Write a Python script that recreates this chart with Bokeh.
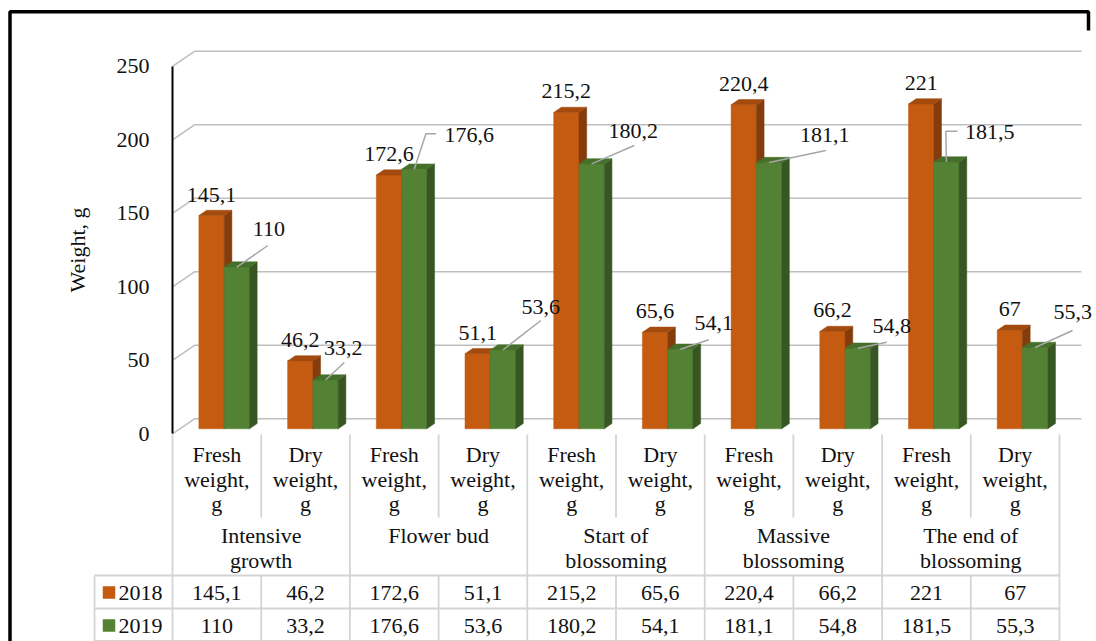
import numpy as np
from bokeh.plotting import figure
from bokeh.models import Range1d, LinearAxis, FixedTicker, Grid, Label
from bokeh.embed import file_html
from bokeh.resources import INLINE

# ---------------- data ----------------
stages = [["Intensive", "growth"], ["Flower bud"], ["Start of", "blossoming"],
          ["Massive", "blossoming"], ["The end of", "blossoming"]]
measures = [["Fresh", "weight,", "g"], ["Dry", "weight,", "g"]]
years = ["2018", "2019"]
values_2018 = [145.1, 46.2, 172.6, 51.1, 215.2, 65.6, 220.4, 66.2, 221, 67]
values_2019 = [110, 33.2, 176.6, 53.6, 180.2, 54.1, 181.1, 54.8, 181.5, 55.3]
y_ticks = [0, 50, 100, 150, 200, 250]
y_title = "Weight, g"


def fmt(v):
    return f"{v:g}".replace(".", ",")


# ---------------- layout / style ----------------
W, H = 1096, 641
X0, CELL = 172.0, 88.7
Y0, PPU = 433.3, 1.47
FONT_NAME = "Liberation Serif"
FS = "22px"
TXT = "#111111"
GRID = "#BFBFBF"
TLINE = "#D4D4D4"
C18 = ("#C55A11", "#A34A0E", "#843C0C")
C19 = ("#548235", "#45702B", "#375623")

DX, DY = 22 / CELL, 15 / PPU
BX, BY = DX / 3, DY / 3
BDX, BDY = 0.35 * DX, 0.35 * DY
BW = 0.285


def ax(px):
    return (px - X0) / CELL


def ay(py):
    return (Y0 - py) / PPU


def dxp(px):
    return px / CELL


def dyp(py):
    return -py / PPU


p = figure(width=W, height=H, min_border=0, min_border_left=0, min_border_right=0,
           min_border_top=0, min_border_bottom=0, toolbar_location=None,
           output_backend="svg", x_range=Range1d(ax(0), ax(W)),
           y_range=Range1d(ay(H), ay(0)), x_axis_location=None, y_axis_location=None)
p.outline_line_color = None
p.background_fill_color = "white"
p.border_fill_color = "white"
p.center = [c for c in p.center if not isinstance(c, Grid)]


def put(x, y, text, align="center"):
    p.add_layout(Label(x=x, y=y, text=text, text_font=FONT_NAME, text_font_size=FS,
                       text_color=TXT, text_align=align, text_baseline="middle"))


n = len(values_2018)
idx = np.arange(n)
ymax = y_ticks[-1]

# 3D back wall and side wall gridlines
gx, gy = [], []
for t in y_ticks:
    gx.append([0, DX, n + DX])
    gy.append([t, t + DY, t + DY])
p.multi_line(gx, gy, line_color=GRID, line_width=1.6)

# bars
v18 = np.array(values_2018, dtype=float)
v19 = np.array(values_2019, dtype=float)
o_l = idx + 0.5 - BW + BX
o_r = idx + 0.5 + BX
g_l = o_r
g_r = o_r + BW


def draw_bars(left, right, vals, cols):
    front, top, side = cols
    bottom = BY
    tops = vals + BY
    p.quad(left=left, right=right, bottom=bottom, top=tops, fill_color=front,
           line_color=front, line_width=0.5)
    p.patches([[r, r + BDX, r + BDX, r] for r in right],
              [[bottom, bottom + BDY, tp + BDY, tp] for tp in tops],
              fill_color=side, line_color=side, line_width=0.5)
    p.patches([[l, r, r + BDX, l + BDX] for l, r in zip(left, right)],
              [[tp, tp, tp + BDY, tp + BDY] for tp in tops],
              fill_color=top, line_color=top, line_width=0.5)


draw_bars(o_l, o_r, v18, C18)
draw_bars(g_l, g_r, v19, C19)

# y axis
yaxis = LinearAxis(fixed_location=0, bounds=(0, ymax), ticker=FixedTicker(ticks=y_ticks),
                   axis_label=y_title)
yaxis.axis_line_color = "black"
yaxis.axis_line_width = 2
yaxis.major_tick_line_color = None
yaxis.minor_tick_line_color = None
yaxis.major_label_standoff = 17
yaxis.major_label_text_font = FONT_NAME
yaxis.major_label_text_font_size = FS
yaxis.major_label_text_color = TXT
yaxis.axis_label_text_font = FONT_NAME
yaxis.axis_label_text_font_size = FS
yaxis.axis_label_text_font_style = "normal"
yaxis.axis_label_text_color = TXT
yaxis.axis_label_standoff = 24
p.add_layout(yaxis, "left")

# data labels 2018 (above bars)
for xc, v in zip((o_l + o_r) / 2, values_2018):
    put(xc, v + BY + 21 / PPU, fmt(v))

# data labels 2019 (moved, with leader lines)
label_offsets = [(32, -38.6), (17.8, -31.5), (55, -33.7), (37.9, -42.8), (41.7, -33.4),
                 (33.5, -26.1), (55.8, -27.1), (34, -22), (43.4, -29.8), (37.7, -35.3)]
leader_pts = [[(-1, 17)], [(1, 14)], [(-43.3, -1.7), (-33.3, -1.7)], [(0, 13.3)], [(1, 15)],
              [(-5, 16.6)], [(1, 15)], [(-5, 16)], [(-44, -1), (-32.3, -1)], [(-0.3, 18.3)]]
gcx = (g_l + g_r) / 2
gtop = v19 + BY
lx = [gcx[i] + dxp(label_offsets[i][0]) for i in range(n)]
ly = [gtop[i] + dyp(label_offsets[i][1]) for i in range(n)]
lxs, lys = [], []
for i in range(n):
    lxs.append([gcx[i]] + [lx[i] + dxp(a) for a, b in leader_pts[i]])
    lys.append([gtop[i]] + [ly[i] + dyp(b) for a, b in leader_pts[i]])
p.multi_line(lxs, lys, line_color="#A6A6A6", line_width=1.5)
for i, v in enumerate(values_2019):
    put(lx[i], ly[i], fmt(v))

# category / data table
T_TOP, T_CAT_END, T_ROW1, T_ROW2, T_BOT = 434, 517, 575, 608, 640.5
T_LEFT = 94
sx, sy = [], []
for k in range(n + 1):
    if k % 2 == 0 or k == n:
        sx.append([k, k]); sy.append([ay(T_TOP), ay(T_BOT)])
    else:
        sx.append([k, k]); sy.append([ay(T_TOP), ay(T_CAT_END)])
        sx.append([k, k]); sy.append([ay(T_ROW1), ay(T_BOT)])
for yy in (T_ROW1, T_ROW2, T_BOT):
    sx.append([ax(T_LEFT), n]); sy.append([ay(yy), ay(yy)])
sx.append([ax(T_LEFT), ax(T_LEFT)]); sy.append([ay(T_ROW1), ay(T_BOT)])
p.multi_line(sx, sy, line_color=TLINE, line_width=1.8)

for i in range(n):
    for j, line in enumerate(measures[i % 2]):
        put(i + 0.5, ay(454 + 24.5 * j), line)
for g, st in enumerate(stages):
    for j, line in enumerate(st):
        put(2 * g + 1, ay(535 + 25 * j), line)

row_y = [ay(592), ay(625)]
for r, vals in enumerate([values_2018, values_2019]):
    for i, v in enumerate(vals):
        put(i + 0.5, row_y[r], fmt(v))
p.rect(x=[ax(108.5)] * 2, y=row_y, width=dxp(12.5), height=12.5 / PPU,
       fill_color=[C18[0], C19[0]], line_color=None)
for r, yr in enumerate(years):
    put(ax(118), row_y[r], yr, align="left")

# outer frame
p.multi_line([[ax(9.5), ax(9.5), ax(1088), ax(1088)]],
             [[ay(H + 5), ay(11.3), ay(11.3), ay(30)]],
             line_color="black", line_width=3.5)

open("out.html", "w").write(file_html(p, INLINE))
